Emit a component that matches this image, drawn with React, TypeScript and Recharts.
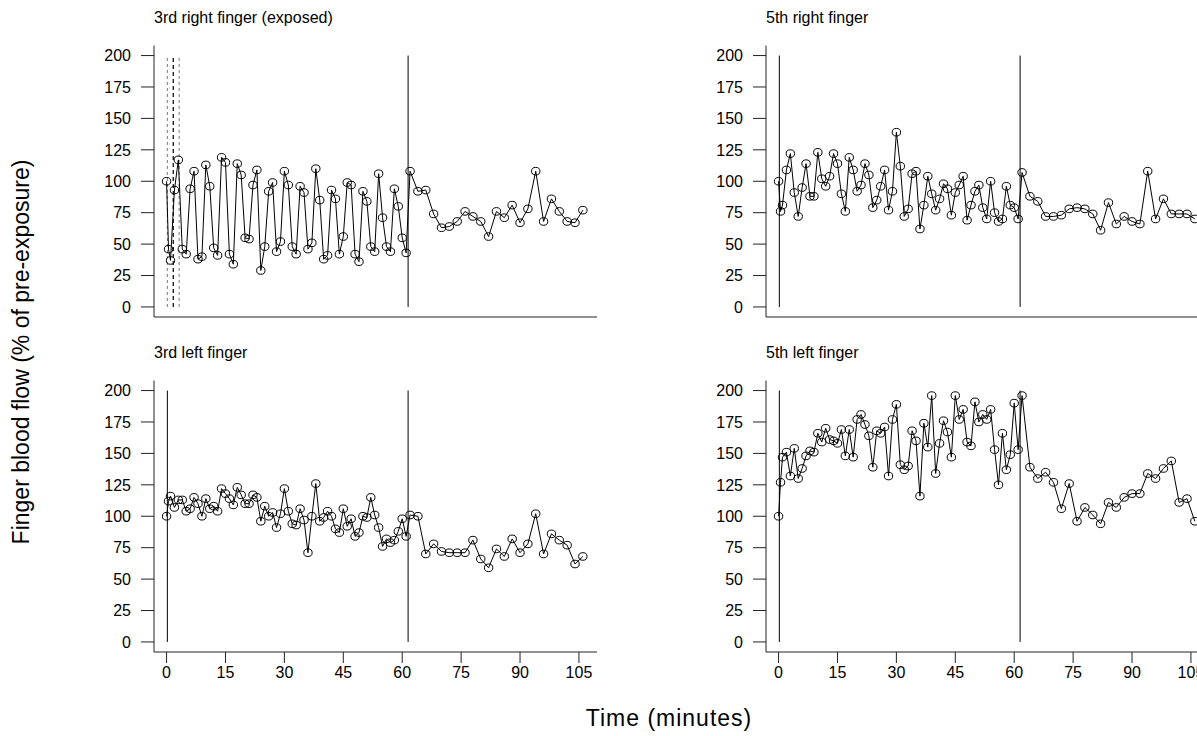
import React from "react";
import { LineChart, Line, XAxis, YAxis, ReferenceLine } from "recharts";

// sampling times in minutes (1 min during exposure, 2 min after)
const minutes = [
  0, 0.5, 1, 2, 3, 4, 5, 6, 7, 8, 9, 10, 11, 12, 13, 14, 15, 16, 17, 18, 19, 20,
  21, 22, 23, 24, 25, 26, 27, 28, 29, 30, 31, 32, 33, 34, 35, 36, 37, 38, 39, 40,
  41, 42, 43, 44, 45, 46, 47, 48, 49, 50, 51, 52, 53, 54, 55, 56, 57, 58, 59, 60,
  61, 62, 64, 66, 68, 70, 72, 74, 76, 78, 80, 82, 84, 86, 88, 90, 92, 94, 96, 98,
  100, 102, 104, 106,
];

const right3rd = [
  100, 46, 37, 93, 117, 46, 42, 94, 108, 38, 40, 113, 96, 47, 41, 119, 115, 42, 34, 114, 105, 55,
  54, 97, 109, 29, 48, 92, 99, 44, 52, 108, 97, 48, 42, 96, 91, 46, 51, 110, 85, 38, 41, 93, 86,
  42, 56, 99, 97, 42, 36, 92, 84, 48, 44, 106, 71, 48, 44, 94, 80, 55, 43,
  108, 92, 93, 74, 63, 64, 68, 76, 72, 68, 56, 76, 71, 81, 67, 78, 108, 68, 86, 76, 68, 67, 77,
];

const right5th = [
  100, 76, 81, 109, 122, 91, 72, 95, 114, 88, 88, 123, 102, 96, 104, 122, 114, 90, 76, 119, 109, 92,
  97, 114, 105, 79, 85, 96, 109, 77, 92, 139, 112, 72, 78, 106, 108, 62, 81, 104, 90, 77, 86, 98,
  94, 73, 91, 97, 104, 69, 81, 92, 97, 79, 70, 100, 75, 68, 70, 96, 81, 79, 70,
  107, 88, 84, 72, 72, 73, 78, 79, 78, 74, 61, 83, 66, 72, 68, 66, 108, 70, 86, 74, 74, 74, 70,
];

const left3rd = [
  100, 112, 116, 107, 113, 113, 104, 106, 115, 110, 100, 114, 106, 108, 104, 122, 118, 114, 109, 123,
  117, 110, 110, 117, 115, 96, 108, 100, 103, 91, 102, 122, 104, 94, 93, 106, 97, 71, 100, 126, 96,
  99, 104, 100, 90, 87, 106, 92, 98, 84, 87, 100, 99, 115, 101, 91, 76, 82, 79, 81, 88, 98, 84,
  101, 100, 70, 78, 72, 71, 71, 71, 81, 66, 59, 74, 68, 82, 71, 78, 102, 70, 86, 81, 77, 62, 68,
];

const left5th = [
  100, 127, 147, 151, 132, 154, 130, 138, 148, 152, 151, 166, 159, 170, 161, 160, 158, 169, 148, 169,
  147, 177, 181, 173, 164, 139, 168, 166, 171, 132, 177, 189, 141, 137, 140, 168, 160, 116, 174, 155,
  196, 134, 158, 176, 167, 147, 196, 177, 185, 159, 156, 191, 175, 181, 177, 185, 153, 125, 166, 137,
  149, 190, 153,
  196, 139, 130, 135, 127, 106, 126, 96, 107, 101, 94, 111, 107, 115, 118, 118, 134, 130, 138, 144,
  111, 114, 96,
];

const xTicks = [0, 15, 30, 45, 60, 75, 90, 105];
const yTicks = [0, 25, 50, 75, 100, 125, 150, 175, 200];

const FONT = "'Liberation Sans', Arial, sans-serif";
const INK = "#000";

function OpenDot(props: any) {
  const { cx, cy, index } = props;
  if (cx == null || cy == null) return null;
  return <ellipse key={index} cx={cx} cy={cy} rx={4.2} ry={3.8} fill="none" stroke={INK} strokeWidth={1} />;
}

interface PanelProps {
  left: number;
  top: number;
  title: string;
  values: number[];
  solid: number[];
  dashed?: number[];
  xLabels: boolean;
}

function Panel({ left, top, title, values, solid, dashed = [], xLabels }: PanelProps) {
  const data = minutes.map((t, i) => ({ t, v: values[i] }));
  return (
    <div style={{ position: "absolute", left, top }}>
      <div
        style={{
          position: "absolute",
          left: 154,
          top: 9,
          fontSize: 16,
          lineHeight: "18px",
          whiteSpace: "nowrap",
          fontFamily: FONT,
          color: INK,
        }}
      >
        {title}
      </div>
      <LineChart width={600} height={345} data={data} margin={{ top: 45.5, right: 3, bottom: 0, left: 0 }}>
        <XAxis
          dataKey="t"
          type="number"
          domain={[-3.2, 109.6]}
          allowDataOverflow
          ticks={xTicks}
          interval={0}
          height={28}
          tickSize={11}
          tickMargin={4}
          stroke="#222"
          tick={xLabels ? { fill: INK, fontSize: 16, fontFamily: FONT } : false}
        />
        <YAxis
          type="number"
          domain={[-8, 208]}
          allowDataOverflow
          ticks={yTicks}
          interval={0}
          width={154}
          tickSize={13}
          tickMargin={10}
          stroke="#222"
          tick={{ fill: INK, fontSize: 16, fontFamily: FONT }}
        />
        {dashed.map((x, i) => (
          <ReferenceLine
            key={"d" + i}
            segment={[{ x, y: 0 }, { x, y: 200 }]}
            stroke={i === 1 ? INK : "#555"}
            strokeWidth={i === 1 ? 1.2 : 0.8}
            strokeDasharray={i === 1 ? "4 3" : "3 3"}
          />
        ))}
        {solid.map((x, i) => (
          <ReferenceLine key={"s" + i} segment={[{ x, y: 0 }, { x, y: 200 }]} stroke={INK} strokeWidth={1} />
        ))}
        <Line
          type="linear"
          dataKey="v"
          stroke={INK}
          strokeWidth={1}
          dot={OpenDot}
          activeDot={false}
          isAnimationActive={false}
        />
      </LineChart>
    </div>
  );
}

export default function App() {
  return (
    <div
      style={{
        position: "absolute",
        left: 0,
        top: 0,
        width: 1197,
        height: 736,
        overflow: "hidden",
        background: "#fff",
        fontFamily: FONT,
      }}
    >
      <Panel left={0} top={0} title="3rd right finger (exposed)" values={right3rd} solid={[61.5]} dashed={[0.2, 1.7, 3.2]} xLabels={false} />
      <Panel left={612} top={0} title="5th right finger" values={right5th} solid={[0.2, 61.5]} xLabels={false} />
      <Panel left={0} top={334.5} title="3rd left finger" values={left3rd} solid={[0.2, 61.5]} xLabels />
      <Panel left={612} top={334.5} title="5th left finger" values={left5th} solid={[0.2, 61.5]} xLabels />
      <svg width={1197} height={736} style={{ position: "absolute", left: 0, top: 0, pointerEvents: "none" }}>
        <text
          x={0}
          y={0}
          transform="translate(29 352) rotate(-90)"
          textAnchor="middle"
          fontSize={23}
          fontFamily={FONT}
          fill={INK}
        >
          Finger blood flow (% of pre-exposure)
        </text>
        <text x={669} y={726} textAnchor="middle" fontSize={23} letterSpacing={1} fontFamily={FONT} fill={INK}>
          Time (minutes)
        </text>
      </svg>
    </div>
  );
}
